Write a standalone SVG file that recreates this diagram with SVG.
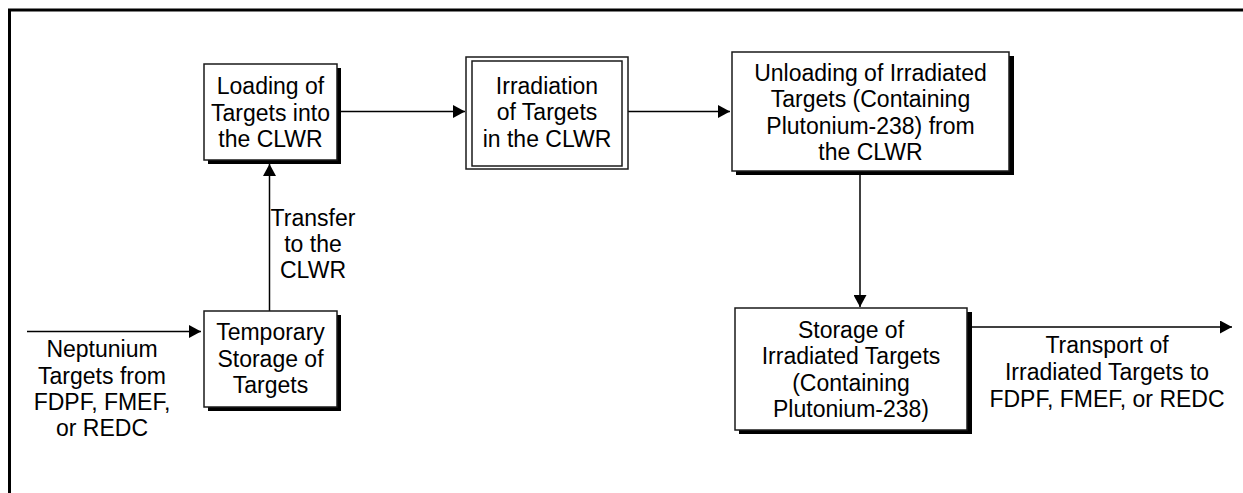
<svg xmlns="http://www.w3.org/2000/svg" width="1243" height="493" viewBox="0 0 1243 493">
  <style>
    .box { fill: #ffffff; stroke: #1a1a1a; stroke-width: 1.5; }
    .shadow { fill: #000000; }
    .t { font-family: "Liberation Sans", Arial, sans-serif; font-size: 23px; fill: #000000; text-anchor: middle; }
    .conn { fill: none; stroke: #000000; stroke-width: 1.5; }
    .frame { fill: none; stroke: #000000; stroke-width: 3; }
  </style>
  <defs>
    <marker id="arrow" markerUnits="userSpaceOnUse" markerWidth="12" markerHeight="13" refX="12" refY="6.5" orient="auto">
      <path d="M0,0 L12,6.5 L0,13 Z" fill="#000000"/>
    </marker>
  </defs>
  <rect width="1243" height="493" fill="#ffffff"/>
  <path class="frame" d="M9.5,493 V10 H1243"/>

  <g id="connectors">
    <line class="conn" x1="338" y1="111.5" x2="465" y2="111.5" marker-end="url(#arrow)"/>
    <line class="conn" x1="628" y1="111.5" x2="730" y2="111.5" marker-end="url(#arrow)"/>
    <line class="conn" x1="860" y1="175" x2="860" y2="307" marker-end="url(#arrow)"/>
    <line class="conn" x1="269.5" y1="311" x2="269.5" y2="164" marker-end="url(#arrow)"/>
    <line class="conn" x1="27" y1="331.5" x2="201" y2="331.5" marker-end="url(#arrow)"/>
    <line class="conn" x1="971" y1="327" x2="1232" y2="327" marker-end="url(#arrow)"/>
  </g>

  <g id="loading">
    <rect class="shadow" x="208" y="68" width="133" height="96"/>
    <rect class="box" x="204" y="64" width="133" height="96"/>
    <text class="t" x="270.5" y="94">Loading of</text>
    <text class="t" x="270.5" y="120.5">Targets into</text>
    <text class="t" x="270.5" y="147">the CLWR</text>
  </g>

  <g id="irradiation">
    <rect class="box" x="466" y="57" width="162" height="112"/>
    <rect class="box" x="472" y="61" width="150" height="105"/>
    <text class="t" x="547" y="93.5">Irradiation</text>
    <text class="t" x="547" y="120">of Targets</text>
    <text class="t" x="547" y="146.5">in the CLWR</text>
  </g>

  <g id="unloading">
    <rect class="shadow" x="736" y="56" width="278" height="119"/>
    <rect class="box" x="732" y="52" width="277" height="119"/>
    <text class="t" x="870.5" y="80.5">Unloading of Irradiated</text>
    <text class="t" x="870.5" y="107">Targets (Containing</text>
    <text class="t" x="870.5" y="133.5">Plutonium-238) from</text>
    <text class="t" x="870.5" y="160">the CLWR</text>
  </g>

  <g id="temporary">
    <rect class="shadow" x="208" y="315" width="133" height="96"/>
    <rect class="box" x="204" y="311" width="133" height="96"/>
    <text class="t" x="270.5" y="340">Temporary</text>
    <text class="t" x="270.5" y="366.5">Storage of</text>
    <text class="t" x="270.5" y="393">Targets</text>
  </g>

  <g id="storage">
    <rect class="shadow" x="739" y="312" width="233" height="122"/>
    <rect class="box" x="735" y="308" width="232" height="122"/>
    <text class="t" x="851" y="337.5">Storage of</text>
    <text class="t" x="851" y="364">Irradiated Targets</text>
    <text class="t" x="851" y="390.5">(Containing</text>
    <text class="t" x="851" y="417">Plutonium-238)</text>
  </g>

  <g id="label-neptunium">
    <text class="t" x="102" y="357">Neptunium</text>
    <text class="t" x="102" y="383.5">Targets from</text>
    <text class="t" x="102" y="410">FDPF, FMEF,</text>
    <text class="t" x="102" y="436">or REDC</text>
  </g>

  <g id="label-transfer">
    <text class="t" x="313" y="226">Transfer</text>
    <text class="t" x="313" y="252">to the</text>
    <text class="t" x="313" y="278">CLWR</text>
  </g>

  <g id="label-transport">
    <text class="t" x="1107" y="353">Transport of</text>
    <text class="t" x="1107" y="380">Irradiated Targets to</text>
    <text class="t" x="1107" y="406.5">FDPF, FMEF, or REDC</text>
  </g>
</svg>
